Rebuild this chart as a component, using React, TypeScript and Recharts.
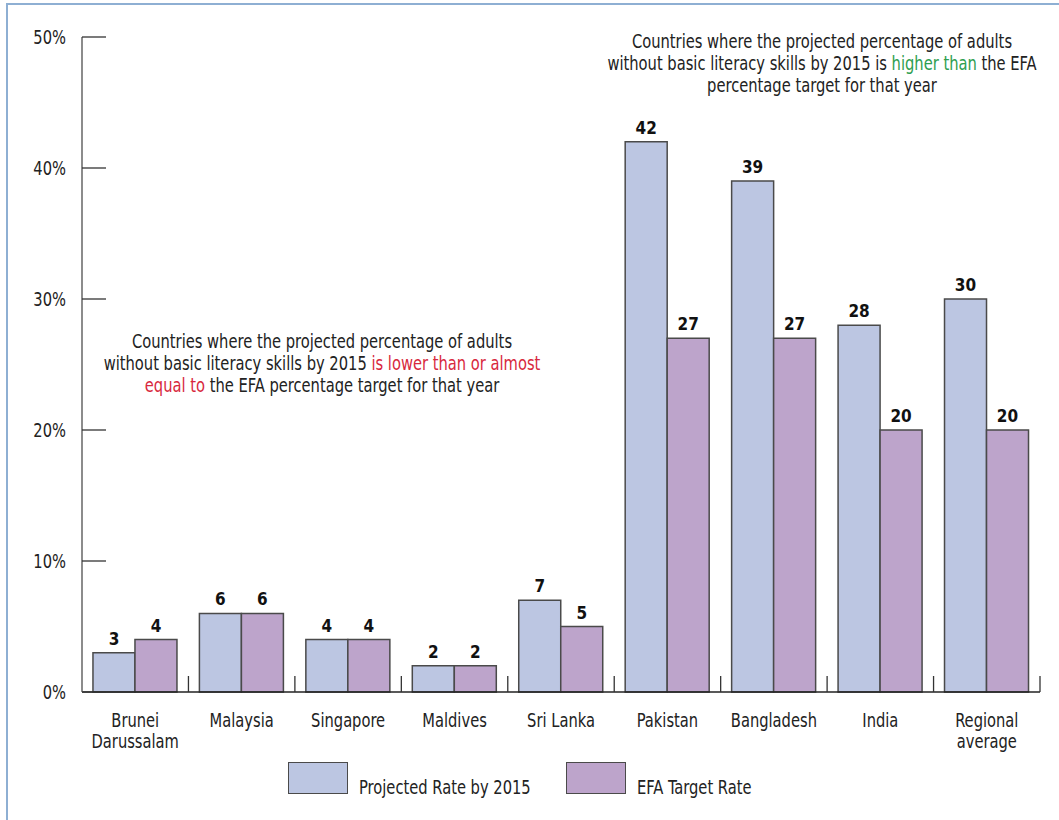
import React from 'react';
import { BarChart, Bar, XAxis, YAxis, LabelList, Legend } from 'recharts';

const categories = [
  'Brunei\nDarussalam',
  'Malaysia',
  'Singapore',
  'Maldives',
  'Sri Lanka',
  'Pakistan',
  'Bangladesh',
  'India',
  'Regional\naverage',
];
const projectedRate = [3, 6, 4, 2, 7, 42, 39, 28, 30];
const targetRate = [4, 6, 4, 2, 5, 27, 27, 20, 20];
const yTicks = [0, 10, 20, 30, 40, 50];

const seriesOrder = ['projected', 'target'];
const seriesNames = { projected: 'Projected Rate by 2015', target: 'EFA Target Rate' };

const noteHigher = [
  [{ t: 'Countries where the projected percentage of adults' }],
  [
    { t: 'without basic literacy skills by 2015 is ' },
    { t: 'higher than', c: '#2e9e4f' },
    { t: ' the EFA' },
  ],
  [{ t: 'percentage target for that year' }],
];
const noteLower = [
  [{ t: 'Countries where the projected percentage of adults' }],
  [
    { t: 'without basic literacy skills by 2015 ' },
    { t: 'is lower than or almost', c: '#d8283d' },
  ],
  [{ t: 'equal to', c: '#d8283d' }, { t: ' the EFA percentage target for that year' }],
];

const data = categories.map((c, i) => ({
  name: c,
  projected: projectedRate[i],
  target: targetRate[i],
}));

const FONT = "'DejaVu Sans Condensed', 'DejaVu Sans', sans-serif";
const SX = 0.86;
const BLUE = '#bcc6e2';
const PURPLE = '#bda4cb';
const STROKE = '#4a4a4a';

const YTick = (props: any) => {
  const { x, y, payload } = props;
  return (
    <g>
      <line x1={x + 16} x2={x + 40} y1={y} y2={y} stroke="#333" strokeWidth={1.3} />
      <text
        transform={`translate(${x} ${y}) scale(${SX} 1)`}
        x={0}
        y={0}
        dy={7}
        textAnchor="end"
        fontSize={19}
        fontFamily={FONT}
        fill="#222"
      >
        {payload.value}%
      </text>
    </g>
  );
};

const XTick = (props: any) => {
  const { x, y, payload, index, visibleTicksCount } = props;
  const lines = String(payload.value).split('\n');
  const half = payload.offset || 0;
  const isLast = index === (visibleTicksCount ?? categories.length) - 1;
  return (
    <g>
      {index > 0 && (
        <line x1={x - half} x2={x - half} y1={y} y2={y - 16} stroke="#333" strokeWidth={1.3} />
      )}
      {isLast && (
        <line x1={x + half} x2={x + half} y1={y} y2={y - 16} stroke="#333" strokeWidth={1.3} />
      )}
      <text
        transform={`translate(${x} ${y}) scale(${SX} 1)`}
        x={0}
        y={0}
        textAnchor="middle"
        fontSize={19}
        fontFamily={FONT}
        fill="#222"
      >
        {lines.map((l, i) => (
          <tspan key={i} x={0} dy={i === 0 ? 35 : 21}>
            {l}
          </tspan>
        ))}
      </text>
    </g>
  );
};

const LegendContent = (props: any) => {
  const payload = [...(props.payload || [])].sort(
    (a: any, b: any) => seriesOrder.indexOf(a.dataKey) - seriesOrder.indexOf(b.dataKey)
  );
  return (
    <div style={{ display: 'flex', fontFamily: FONT, fontSize: 19, color: '#222' }}>
      {payload.map((p: any, i: number) => (
        <div key={i} style={{ display: 'flex', alignItems: 'flex-end', width: 278 }}>
          <div
            style={{
              width: 58,
              height: 30,
              background: p.color,
              border: `1.5px solid ${STROKE}`,
              boxSizing: 'content-box',
              flex: 'none',
            }}
          />
          <span
            style={{
              marginLeft: 11,
              lineHeight: '20px',
              position: 'relative',
              top: 3,
              display: 'inline-block',
              transform: `scaleX(${SX})`,
              transformOrigin: 'left center',
              whiteSpace: 'nowrap',
            }}
          >
            {p.value}
          </span>
        </div>
      ))}
    </div>
  );
};

const Note = ({ lines, left, top }: any) => (
  <div
    style={{
      position: 'absolute',
      left,
      top,
      width: 600,
      textAlign: 'center',
      fontFamily: FONT,
      fontSize: 19,
      lineHeight: '22px',
      color: '#222',
      whiteSpace: 'nowrap',
      transform: `scaleX(${SX})`,
      transformOrigin: 'center center',
    }}
  >
    {lines.map((parts: any[], i: number) => (
      <div key={i}>
        {parts.map((p, j) => (
          <span key={j} style={p.c ? { color: p.c } : undefined}>
            {p.t}
          </span>
        ))}
      </div>
    ))}
  </div>
);

export default function App() {
  return (
    <div
      style={{
        position: 'absolute',
        left: 0,
        top: 0,
        width: 1059,
        height: 820,
        overflow: 'hidden',
        background: '#fff',
      }}
    >
      <div
        style={{
          position: 'absolute',
          left: 6,
          top: 3,
          width: 1200,
          height: 1000,
          borderLeft: '2px solid #8eafd3',
          borderTop: '2px solid #8eafd3',
        }}
      />
      <BarChart
        width={1059}
        height={820}
        data={data}
        margin={{ top: 37, right: 19, bottom: 0, left: 0 }}
        barCategoryGap="10.3%"
        barGap={0}
      >
        <XAxis
          dataKey="name"
          height={128}
          axisLine={{ stroke: '#222', strokeWidth: 1.5 }}
          tickLine={false}
          tickSize={0}
          tickMargin={0}
          interval={0}
          tick={<XTick />}
        />
        <YAxis
          width={82}
          domain={[0, 50]}
          ticks={yTicks}
          axisLine={{ stroke: '#666', strokeWidth: 1.5 }}
          tickLine={false}
          tickSize={0}
          tickMargin={16}
          tick={<YTick />}
        />
        <Legend
          verticalAlign="middle"
          layout="horizontal"
          itemSorter="dataKey"
          wrapperStyle={{ left: 288, top: 762, width: 700 }}
          content={<LegendContent />}
        />
        <Bar
          dataKey="projected"
          name={seriesNames.projected}
          fill={BLUE}
          stroke={STROKE}
          strokeWidth={1.5}
          isAnimationActive={false}
        >
          <LabelList
            dataKey="projected"
            position="top"
            offset={8}
            fontSize={17}
            fontWeight="bold"
            fontFamily={FONT}
            fill="#111"
          />
        </Bar>
        <Bar
          dataKey="target"
          name={seriesNames.target}
          fill={PURPLE}
          stroke={STROKE}
          strokeWidth={1.5}
          isAnimationActive={false}
        >
          <LabelList
            dataKey="target"
            position="top"
            offset={8}
            fontSize={17}
            fontWeight="bold"
            fontFamily={FONT}
            fill="#111"
          />
        </Bar>
      </BarChart>
      <Note lines={noteHigher} left={522} top={30} />
      <Note lines={noteLower} left={22} top={330} />
    </div>
  );
}
